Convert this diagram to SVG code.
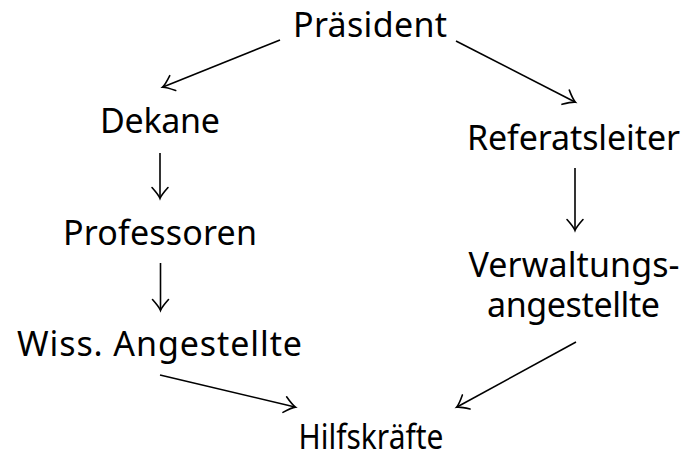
<svg xmlns="http://www.w3.org/2000/svg" width="689" height="454" viewBox="0 0 689 454">
<style>
text{font-family:"Noto Sans","Open Sans",sans-serif;font-size:34px;fill:#000;text-anchor:middle}
.c line{stroke:#000;stroke-width:1.6;fill:none;marker-end:url(#to)}
</style>
<defs>
<marker id="to" markerUnits="userSpaceOnUse" markerWidth="20" markerHeight="20" viewBox="-12 -10 14 20" refX="0" refY="0" orient="auto" overflow="visible">
<path d="M-10.5,-8 Q-3,-1.3 0.5,0 Q-3,1.3 -10.5,8" fill="none" stroke="#000" stroke-width="1.6" stroke-linecap="round"/>
</marker>
</defs>
<rect width="689" height="454" fill="#fff"/>
<g id="praesident"><text x="370" y="37" textLength="154">Präsident</text></g>
<g id="dekane"><text x="160" y="133" textLength="120">Dekane</text></g>
<g id="referatsleiter"><text x="573.5" y="150" textLength="213">Referatsleiter</text></g>
<g id="professoren"><text x="160" y="245" textLength="194">Professoren</text></g>
<g id="verwaltungsangestellte"><text x="574" y="277" textLength="211">Verwaltungs-</text><text x="573.5" y="317" textLength="173">angestellte</text></g>
<g id="wiss"><text x="159.5" y="356" textLength="285">Wiss. Angestellte</text></g>
<g id="hilfskraefte"><text x="371" y="449" textLength="145" lengthAdjust="spacingAndGlyphs">Hilfskräfte</text></g>
<g class="c" id="connectors">
<line x1="280" y1="40" x2="163" y2="87"/>
<line x1="456" y1="41" x2="575" y2="102"/>
<line x1="160" y1="153" x2="160" y2="198"/>
<line x1="160.5" y1="263" x2="160.5" y2="310"/>
<line x1="575" y1="168" x2="575" y2="230"/>
<line x1="160" y1="375" x2="295" y2="407"/>
<line x1="576" y1="342" x2="457" y2="407"/>
</g>
</svg>
